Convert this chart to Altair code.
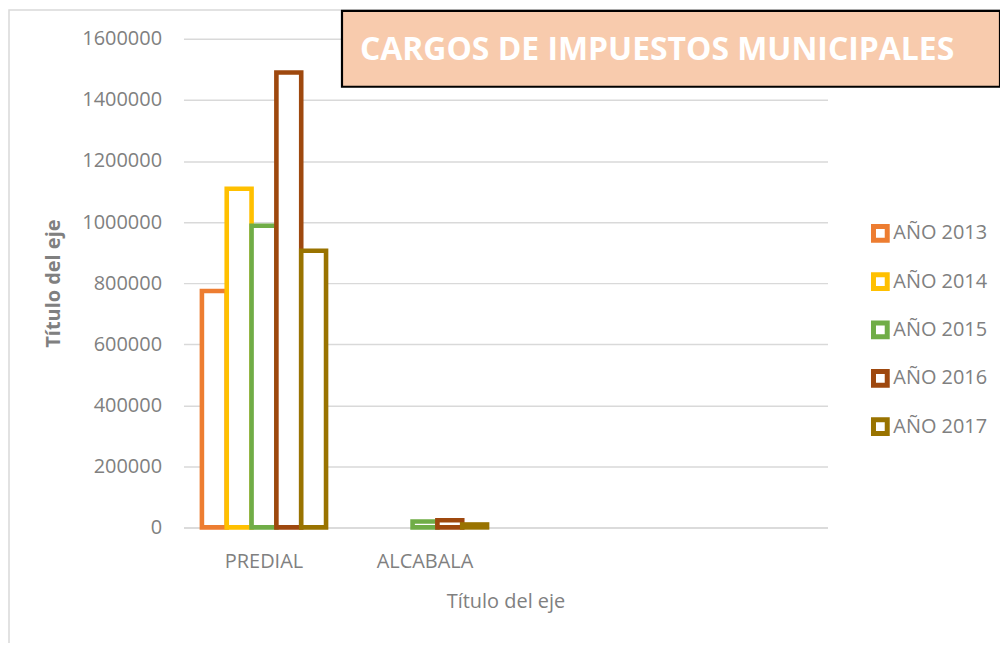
import altair as alt
import pandas as pd

categories = ["PREDIAL", "ALCABALA", " ", "  "]
series = ["AÑO 2013", "AÑO 2014", "AÑO 2015", "AÑO 2016", "AÑO 2017"]
predial = [774000, 1109000, 988000, 1490000, 906000]
alcabala = [0, 0, 19500, 23500, 9500]
colors = ["#ED7D31", "#FFC000", "#70AD47", "#9E480E", "#997300"]
y_ticks = [0, 200000, 400000, 600000, 800000, 1000000, 1200000, 1400000, 1600000]
title_text = "CARGOS DE IMPUESTOS MUNICIPALES"
axis_title = "Título del eje"

rows = []
for cat, vals in (("PREDIAL", predial), ("ALCABALA", alcabala)):
    for s, v in zip(series, vals):
        if v > 0:
            rows.append({"categoria": cat, "serie": s, "valor": v})
df = pd.DataFrame(rows)

W, H = 646, 490
PL, PT = 176, 30
FONT = "Open Sans"
GRAY = "#808080"

bars = alt.Chart(df).mark_bar(fill="white", strokeWidth=4.6).encode(
    x=alt.X("categoria:N",
            scale=alt.Scale(domain=categories, paddingInner=0.229, paddingOuter=0.1145),
            axis=alt.Axis(title=axis_title, labelAngle=0, ticks=False,
                          domainColor="#d9d9d9", domainWidth=1.5,
                          labelPadding=24, titlePadding=20, grid=False,
                          titleFontWeight="normal")),
    xOffset=alt.XOffset("serie:N", scale=alt.Scale(domain=series, paddingInner=0, paddingOuter=0)),
    y=alt.Y("valor:Q",
            scale=alt.Scale(domain=[0, 1600000], nice=False),
            axis=alt.Axis(title=axis_title, values=y_ticks, format="d",
                          domain=False, ticks=False, labelPadding=22,
                          titlePadding=18, gridColor="#d9d9d9", gridWidth=1.5,
                          titleFontWeight="bold")),
    stroke=alt.Stroke("serie:N", scale=alt.Scale(domain=series, range=colors),
                      legend=alt.Legend(title=None, orient="none", legendX=689, legendY=185,
                                        symbolType="square", symbolSize=190,
                                        symbolStrokeWidth=5, symbolFillColor="white",
                                        labelFontSize=20, labelFont=FONT, labelColor=GRAY,
                                        labelOffset=3, rowPadding=14.5, padding=0)),
)

one = pd.DataFrame({"t": [title_text]})

border = alt.Chart(one).mark_rect(fill="transparent", stroke="#d9d9d9", strokeWidth=1.5).encode(
    x=alt.value(1 - PL), x2=alt.value(1100), y=alt.value(1 - PT), y2=alt.value(800)
)

box = alt.Chart(one).mark_rect(fill="#F8CBAD", stroke="black", strokeWidth=2.2).encode(
    x=alt.value(343 - 8 - PL), x2=alt.value(1003 - 8 - PL),
    y=alt.value(10 - 8 - PT), y2=alt.value(86 - 8 - PT)
)

title = alt.Chart(one).mark_text(color="white", fontWeight="bold", font=FONT, fontSize=32,
                                 align="left", baseline="middle").encode(
    x=alt.value(361 - 8 - PL), y=alt.value(49 - 8 - PT), text="t:N"
)

chart = alt.layer(border, bars, box, title).properties(
    width=W, height=H,
    autosize=alt.AutoSizeParams(type="none"),
    padding={"left": PL, "top": PT, "right": 995 - PL - W, "bottom": 635 - PT - H},
).configure_view(stroke=None).configure_axis(
    labelFont=FONT, labelFontSize=20, labelColor=GRAY,
    titleFont=FONT, titleFontSize=20, titleColor=GRAY,
)

chart.save("out.html", embed_options={"renderer": "svg", "actions": False})
